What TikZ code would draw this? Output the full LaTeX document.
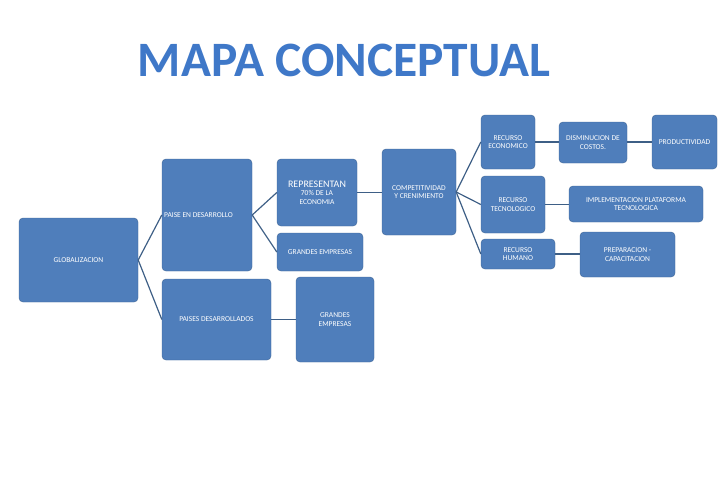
\documentclass[tikz,border=0pt]{standalone}
\usepackage{fontspec}
\setmainfont{Carlito}
\usepackage{graphicx}
\definecolor{bx}{HTML}{4F7EBB}
\definecolor{ln}{HTML}{3E5F86}
\definecolor{tt}{HTML}{3F78C8}
\begin{document}
\begin{tikzpicture}[x=1pt,y=-1pt,
  bx/.style={fill=bx,draw=bx!80!black,line width=0.4pt,rounded corners=4pt,text=white,align=center,font=\fontsize{7.5}{8.5}\selectfont,inner sep=1pt},
  ln/.style={draw=ln,line width=1.2pt}]
\useasboundingbox (0,0) rectangle (720,498);
\node[text=tt,font=\bfseries] (title) at (344,60) {\resizebox{412pt}{!}{MAPA CONCEPTUAL}};
\newcommand\bxn[6]{\node[bx,minimum width=#4-#2,minimum height=#5-#3] (#1) at ({(#2+#4)/2},{(#3+#5)/2}) {#6};}
\bxn{glob}{19}{218}{138}{302}{GLOBALIZACION}
\bxn{pd}{162}{159}{252}{271}{}
\node[text=white,font=\fontsize{7.5}{8.5}\selectfont,anchor=west,inner sep=1pt] (pdt) at (163,215) {PAISE EN DESARROLLO};
\bxn{pds}{162}{279}{271}{360}{PAISES DESARROLLADOS}
\bxn{rep}{277}{159}{357}{226}{\fontsize{10}{12}\selectfont REPRESENTAN\\70\% DE LA\\ECONOMIA}
\bxn{ge1}{277}{233}{363}{271}{GRANDES EMPRESAS}
\bxn{ge2}{296}{277}{374}{362}{GRANDES\\EMPRESAS}
\bxn{comp}{382}{149}{456}{235}{COMPETITIVIDAD\\Y CRENIMIENTO}
\bxn{rec}{481}{115}{535}{169}{RECURSO\\ECONOMICO}
\bxn{dis}{559}{122}{627}{163}{DISMINUCION DE\\COSTOS.}
\bxn{prod}{652}{115}{717}{169}{PRODUCTIVIDAD}
\bxn{rte}{481}{176}{545}{233}{RECURSO\\TECNOLOGICO}
\bxn{imp}{569}{186}{703}{222}{IMPLEMENTACION PLATAFORMA\\TECNOLOGICA}
\bxn{rhu}{481}{239}{555}{269}{RECURSO\\HUMANO}
\bxn{prep}{580}{232}{675}{277}{PREPARACION -\\CAPACITACION}
\coordinate (g0) at (glob.east);
\draw[ln] (g0) -- (pd.west |- pdt.west);
\draw[ln] (g0) -- (pds.west);
\draw[ln] (pd.east |- pdt.west) -- (rep.west);
\draw[ln] (pd.east |- pdt.west) -- (ge1.west);
\draw[ln] (pds.east) -- (ge2.west);
\draw[ln] (rep.east) -- (comp.west |- rep.east);
\draw[ln] (comp.east) -- (rec.west);
\draw[ln] (comp.east) -- (rte.west);
\draw[ln] (comp.east) -- (rhu.west);
\draw[ln] (rec.east) -- (dis.west |- rec.east);
\draw[ln] (dis.east |- rec.east) -- (prod.west);
\draw[ln] (rte.east) -- (imp.west |- rte.east);
\draw[ln] (rhu.east) -- (prep.west |- rhu.east);
\end{tikzpicture}
\end{document}
